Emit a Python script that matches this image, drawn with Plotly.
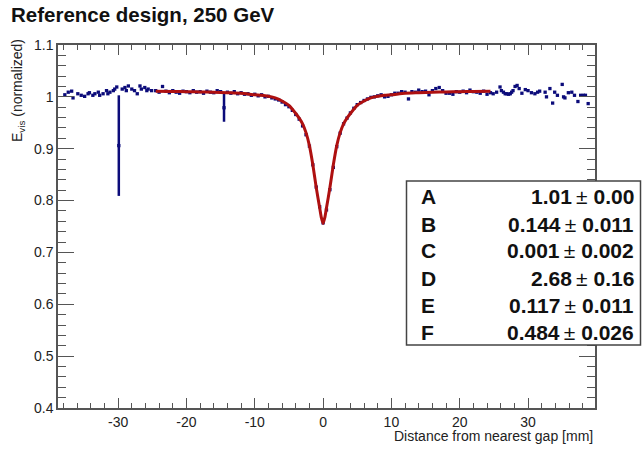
import plotly.graph_objects as go

# Measured visible energy vs. distance from the nearest gap (normalized)
x_left = [-37.8, -37.3, -36.8, -36.6, -35.9, -35.4, -34.9, -34.4, -34.2, -33.7,
          -33.4, -32.9, -32.7, -32.2, -31.7, -31.5, -31.2, -30.7, -30.5, -30.2,
          -29.9, -29.4, -29.0, -28.8, -28.5, -28.0, -27.6, -27.2, -26.8, -26.6,
          -26.1, -25.8, -25.6, -25.1]
e_left = [1.004, 1.009, 1.011, 0.998, 1.006, 1.003, 1.001, 1.006, 1.008, 1.003,
          1.006, 1.009, 1.003, 1.006, 1.012, 1.006, 1.009, 1.012, 1.015, 1.019,
          0.906, 1.015, 1.018, 1.012, 1.021, 1.015, 1.012, 1.006, 1.021, 1.015,
          1.018, 1.012, 1.015, 1.012]

x_mid = [-24.5, -24.0, -23.5, -23.0, -22.5, -22.0, -21.5, -21.0, -20.5, -20.0,
         -19.5, -19.0, -18.5, -18.0, -17.5, -17.0, -16.5, -16.0, -15.5, -15.0,
         -14.5, -14.0, -13.5, -13.0, -12.5, -12.0, -11.5, -11.0, -10.5, -10.0,
         -9.5, -9.0, -8.5, -8.0, -7.5, -7.0, -6.5, -6.0, -5.5, -5.0,
         -4.5, -4.0, -3.5, -3.0, -2.5, -2.0, -1.5, -1.0, -0.5, 0.0,
         0.5, 1.0, 1.5, 2.0, 2.5, 3.0, 3.5, 4.0, 4.5, 5.0,
         5.5, 6.0, 6.5, 7.0, 7.5, 8.0, 8.5, 9.0, 9.5, 10.0,
         10.5, 11.0, 11.5, 12.0, 12.5, 13.0, 13.5, 14.0, 14.5, 15.0,
         15.5, 16.0, 16.5, 17.0, 17.5, 18.0, 18.5, 19.0, 19.5, 20.0,
         20.5, 21.0, 21.5, 22.0, 22.5, 23.0, 23.5, 24.0, 24.5]
e_mid = [1.012, 1.009, 1.020, 1.011, 1.008, 1.012, 1.009, 1.007, 1.011, 1.010,
         1.008, 1.012, 1.009, 1.010, 1.007, 1.011, 1.009, 1.008, 1.012, 1.010,
         0.979, 1.009, 1.007, 1.010, 1.006, 1.008, 1.005, 1.006, 1.003, 1.005,
         1.002, 1.004, 1.000, 1.001, 0.998, 0.996, 0.994, 0.990, 0.985, 0.981,
         0.974, 0.966, 0.957, 0.944, 0.927, 0.905, 0.869, 0.826, 0.788, 0.757,
         0.782, 0.821, 0.864, 0.904, 0.930, 0.948, 0.959, 0.969, 0.978, 0.985,
         0.989, 0.993, 0.996, 0.999, 1.000, 1.002, 1.004, 1.000, 1.001, 1.004,
         1.007, 1.007, 1.010, 1.009, 0.996, 1.010, 1.009, 1.013, 1.010, 1.011,
         1.004, 1.012, 1.016, 1.018, 1.012, 1.007, 1.007, 1.005, 1.010, 1.009,
         1.011, 1.008, 1.013, 1.010, 1.009, 1.007, 1.011, 1.005, 1.008]

x_right = [24.9, 25.4, 25.9, 26.1, 26.4, 26.65, 26.9, 27.15, 27.4, 27.6,
           27.8, 28.1, 28.4, 28.7, 29.1, 29.6, 30.0, 30.5, 31.0, 31.4,
           31.7, 32.5, 32.7, 33.2, 33.6, 33.9, 34.3, 35.0, 35.2, 35.4,
           35.9, 36.4, 36.8, 37.3, 37.7, 38.1, 38.4, 38.8]
e_right = [1.006, 1.009, 1.019, 1.012, 1.009, 1.006, 1.006, 1.005, 1.006, 1.009,
           1.012, 1.020, 1.022, 1.016, 1.007, 1.014, 1.012, 1.008, 1.006, 1.009,
           1.011, 1.009, 1.000, 1.016, 0.988, 1.009, 1.003, 1.024, 1.000, 0.998,
           1.008, 1.009, 1.003, 0.991, 1.003, 1.003, 1.003, 0.987]

# Bins with few entries carry visibly large uncertainties
large_err = {-29.9: 0.097, -14.5: 0.027}

# Fitted response curve
fit_x = [-24.5, -22.0, -20.0, -18.0, -16.0, -14.0, -12.0, -10.0, -9.0, -8.0,
         -7.0, -6.0, -5.0, -4.0, -3.5, -3.0, -2.5, -2.0, -1.5, -1.0,
         -0.5, -0.25, 0.0, 0.25, 0.5, 1.0, 1.5, 2.0, 2.5, 3.0,
         3.5, 4.0, 5.0, 6.0, 7.0, 8.0, 9.0, 10.0, 12.0, 14.0,
         16.0, 18.0, 20.0, 22.0, 24.5]
fit_y = [1.0106, 1.0103, 1.0100, 1.0095, 1.0090, 1.0080, 1.0070, 1.0040, 1.0030, 1.0010,
         0.9980, 0.9920, 0.9835, 0.9680, 0.9590, 0.9480, 0.9310, 0.9060, 0.8690, 0.8250,
         0.7860, 0.7670, 0.7560, 0.7670, 0.7860, 0.8250, 0.8690, 0.9060, 0.9310, 0.9480,
         0.9590, 0.9680, 0.9835, 0.9920, 0.9980, 1.0010, 1.0030, 1.0040, 1.0070, 1.0080,
         1.0090, 1.0095, 1.0100, 1.0103, 1.0106]

# Axis tick labels
x_ticks = [-30, -20, -10, 0, 10, 20, 30]
x_tick_labels = ["-30", "-20", "-10", "0", "10", "20", "30"]
y_ticks = [0.4, 0.5, 0.6, 0.7, 0.8, 0.9, 1.0, 1.1]
y_tick_labels = ["0.4", "0.5", "0.6", "0.7", "0.8", "0.9", "1", "1.1"]

# Fit parameters
par_names = ["A", "B", "C", "D", "E", "F"]
par_values = ["1.01", "0.144", "0.001", "2.68", "0.117", "0.484"]
par_errors = ["0.00", "0.011", "0.002", "0.16", "0.011", "0.026"]

x_mm = x_left + x_mid + x_right
e_vis = e_left + e_mid + e_right
e_err = [large_err.get(x, 0.0) for x in x_mm]

NAVY = "#0b0b7a"
FIT_RED = "#ae1010"
FRAME = "#555555"
FONT = "Liberation Sans"

fig = go.Figure()

fig.add_trace(go.Scatter(
    x=x_mm, y=e_vis, mode="markers",
    marker=dict(symbol="square", size=3.3, color=NAVY),
    error_y=dict(type="data", array=e_err, visible=True,
                 color=NAVY, thickness=2.5, width=0),
    hoverinfo="skip",
))

fig.add_trace(go.Scatter(
    x=fit_x, y=fit_y, mode="lines",
    line=dict(color=FIT_RED, width=3, shape="spline", smoothing=0.6),
    hoverinfo="skip",
))

W, H = 642, 450
ML, MR, MT, MB = 58, 47, 45, 42
PW, PH = W - ML - MR, H - MT - MB


def px_x(p):
    return (p - ML) / PW


def px_y(p):
    return (H - MB - p) / PH


fig.update_layout(
    width=W, height=H,
    margin=dict(l=ML, r=MR, t=MT, b=MB),
    paper_bgcolor="white", plot_bgcolor="white",
    showlegend=False,
    font=dict(family=FONT, size=14, color="#222"),
    title=dict(text="<b>Reference design, 250 GeV</b>",
               font=dict(family=FONT, size=20.5, color="#111"),
               xref="container", yref="container",
               x=11 / W, xanchor="left", y=1 - 15 / H, yanchor="middle"),
)

axis_common = dict(
    showline=True, linecolor=FRAME, linewidth=1.5, mirror="allticks",
    ticks="inside", tickcolor=FRAME, tickwidth=1,
    showgrid=False, zeroline=False,
    tickfont=dict(family=FONT, size=14, color="#222"),
)

fig.update_xaxes(range=[-38.8, 39.8], tickmode="array",
                 tickvals=x_ticks, ticktext=x_tick_labels, ticklen=10,
                 minor=dict(tick0=0, dtick=2, ticks="inside", ticklen=5,
                            tickcolor=FRAME, showgrid=False),
                 **axis_common)
fig.update_yaxes(range=[0.4, 1.1], tickmode="array",
                 tickvals=y_ticks, ticktext=y_tick_labels, ticklen=16,
                 minor=dict(tick0=0, dtick=0.02, ticks="inside", ticklen=8,
                            tickcolor=FRAME, showgrid=False),
                 **axis_common)

# Axis titles
fig.add_annotation(text="Distance from nearest gap [mm]", xref="paper", yref="paper",
                   x=1.0, xanchor="right", y=px_y(436), yanchor="middle",
                   showarrow=False, font=dict(family=FONT, size=14, color="#222"))
fig.add_annotation(text="E<sub>vis</sub> (normalized)", xref="paper", yref="paper",
                   x=px_x(18), xanchor="center", y=px_y(91), yanchor="middle",
                   textangle=-90, showarrow=False,
                   font=dict(family=FONT, size=14, color="#222"))

# Fit parameter box
fig.add_shape(type="rect", xref="paper", yref="paper",
              x0=px_x(406.5), x1=px_x(640.5), y0=px_y(345), y1=px_y(181),
              fillcolor="white", line=dict(color="#444", width=1.5), layer="above")

row_y = [196.7, 224.3, 251.0, 278.3, 305.0, 332.3]
for name, val, err, ry in zip(par_names, par_values, par_errors, row_y):
    fig.add_annotation(text=f"<b>{name}</b>", xref="paper", yref="paper",
                       x=px_x(419), xanchor="left", y=px_y(ry), yanchor="middle",
                       showarrow=False, font=dict(family=FONT, size=21, color="#111"))
    fig.add_annotation(text=f"<b>{val}</b>\u2009\u00b1 <b>{err}</b>",
                       xref="paper", yref="paper",
                       x=px_x(636), xanchor="right", y=px_y(ry), yanchor="middle",
                       showarrow=False, font=dict(family=FONT, size=21, color="#111"))

fig.write_html("out.html")
